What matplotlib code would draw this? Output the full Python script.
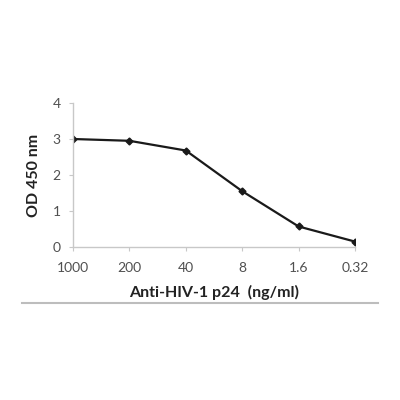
import matplotlib.pyplot as plt
from matplotlib.lines import Line2D

plt.rcParams['font.family'] = ['Lato', 'DejaVu Sans']

concentrations = ['1000', '200', '40', '8', '1.6', '0.32']
od450 = [3.0, 2.95, 2.68, 1.55, 0.57, 0.15]
yticks = [0, 1, 2, 3, 4]

fig = plt.figure(figsize=(4, 4), dpi=100)
ax = fig.add_axes([0.1825, 0.3825, 0.705, 0.36])

x = list(range(len(concentrations)))
ax.plot(x, od450, color='#1a1a1a', lw=1.6, marker='D', ms=3.5)

ax.set_xlim(0, len(concentrations) - 1)
ax.set_ylim(0, 4)
ax.set_xticks(x)
ax.set_xticklabels(concentrations)
ax.set_yticks(yticks)

for s in ['top', 'right']:
    ax.spines[s].set_visible(False)
for s in ['left', 'bottom']:
    ax.spines[s].set_color('#c8c8c8')
    ax.spines[s].set_linewidth(1.0)
ax.tick_params(colors='#c8c8c8', labelcolor='#505050', labelsize=10, length=3)
ax.tick_params(axis='x', pad=8)
ax.tick_params(axis='y', pad=6)

ax.set_ylabel('OD 450 nm', fontsize=11.5, fontweight='bold', color='#222222', labelpad=8)
ax.set_xlabel('Anti-HIV-1 p24  (ng/ml)', fontsize=11.5, fontweight='bold', color='#222222', labelpad=8)

fig.add_artist(Line2D([0.055, 0.945], [0.243, 0.243], color='#bdbdbd', lw=1.5))

fig.savefig('out.png', dpi=100, facecolor='white')
